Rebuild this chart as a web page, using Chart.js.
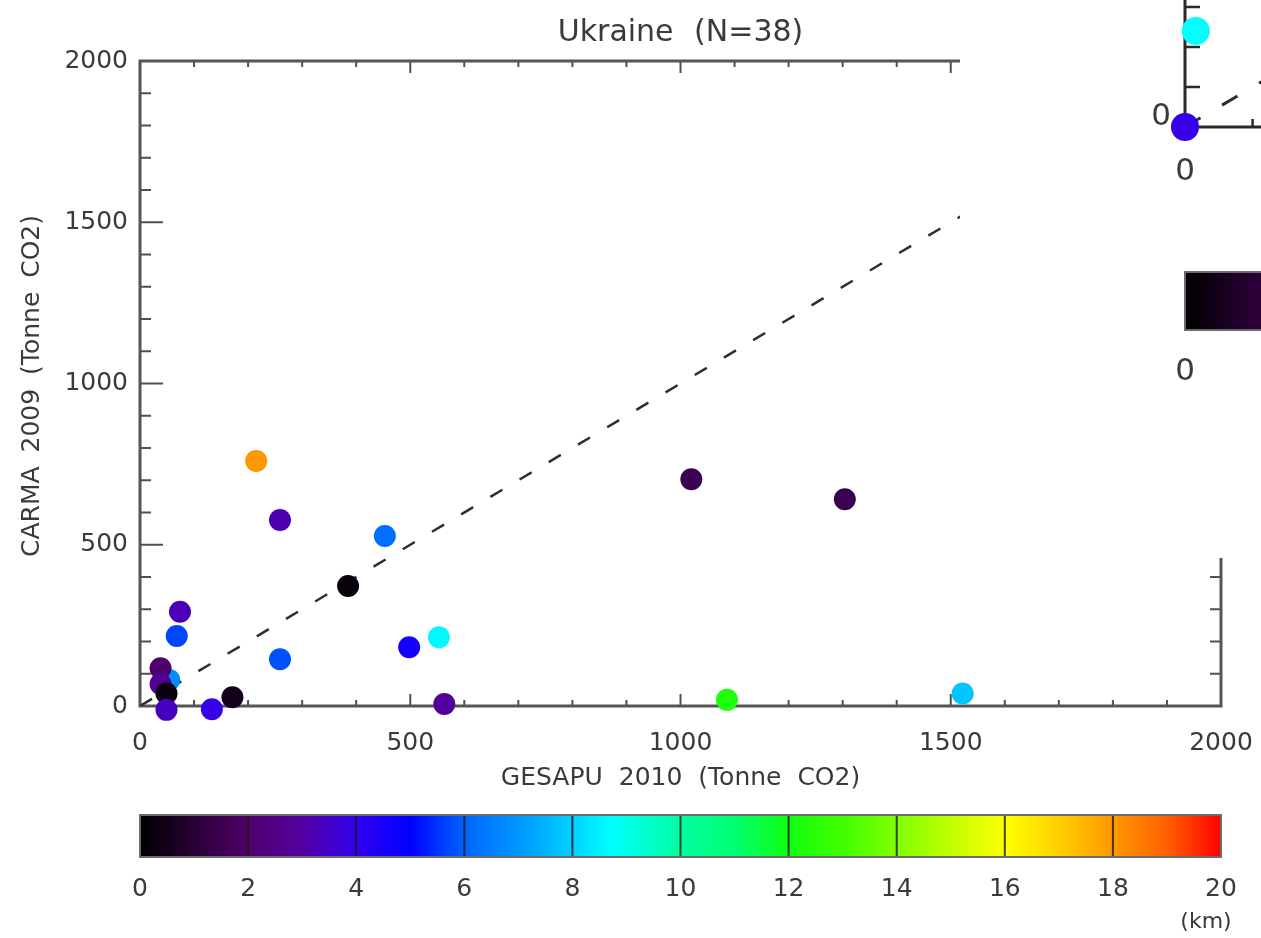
<!DOCTYPE html>
<html>
<head>
<meta charset="utf-8">
<script src="https://cdn.jsdelivr.net/npm/chart.js@4.4.1/dist/chart.umd.min.js"></script>
<style>
  html, body { margin: 0; padding: 0; background: #fff; overflow: hidden; }
  #wrap { position: relative; width: 1261px; height: 938px; }
  #main { position: absolute; left: 0; top: 0; }
  #panel { position: absolute; left: 960px; top: 0; width: 301px; height: 558px; background: #fff; overflow: hidden; }
  #inset { position: absolute; left: 165px; top: 0; }
</style>
</head>
<body>
<div id="wrap">
  <canvas id="main" width="1261" height="938"></canvas>
  <div id="panel"><canvas id="inset" width="400" height="400"></canvas></div>
</div>
<script>
// ---- Ukraine plants: emissions from the two inventories and match distance ----
const gesapu     = [215, 259, 453, 385, 1020, 1304, 74, 68, 259, 498, 553, 563, 1086, 1522, 171, 133, 54, 38, 38, 49, 49];
const carma      = [760, 577, 527, 372, 703, 641, 292, 217, 145, 182, 213, 6, 19, 39, 27, -10, 81, 117, 68, 39, -12];
const distanceKm = [18, 3.2, 6.2, 0.2, 1.5, 1.5, 3.3, 5.7, 5.8, 4.6, 8.6, 2.9, 12.3, 7.8, 0.5, 3.9, 6.8, 2.0, 2.7, 0.3, 3.4];

// 1:1 reference line
const oneToOne = [0, 2000];

// axis ticks
const xTickValues = [0, 500, 1000, 1500, 2000];
const yTickValues = [0, 500, 1000, 1500, 2000];
const minorStep = 100;

// colour bar (distance, km)
const colorbarTicks = [0, 2, 4, 6, 8, 10, 12, 14, 16, 18, 20];
const colorStopsKm  = [0, 2, 3, 4, 5, 6, 7, 8, 8.7, 10, 11, 12, 13, 14, 15, 16, 17, 18, 19, 20];
const colorStopsHex = ['#000000', '#50006a', '#5200a0', '#3300f0', '#0000ff', '#0064ff', '#0098ff', '#00d0ff', '#00ffff',
                       '#00ffa0', '#00ff70', '#10ff10', '#40ff00', '#80ff00', '#c0ff00', '#ffff00', '#ffd000', '#ff9800', '#ff6000', '#ff0000'];

// neighbouring panel (partly visible)
const insetX  = [0, 16];
const insetY  = [0, 240];
const insetKm = [3.9, 8.7];
const insetLine = [0, 500];

const TEXT = '#3a3a3a';
const FONT = 'DejaVu Sans';

function hexToRgb(h) {
  const n = parseInt(h.slice(1), 16);
  return [(n >> 16) & 255, (n >> 8) & 255, n & 255];
}
function kmColor(d) {
  const v = Math.max(colorStopsKm[0], Math.min(colorStopsKm[colorStopsKm.length - 1], d));
  for (let i = 0; i < colorStopsKm.length - 1; i++) {
    const a = colorStopsKm[i], b = colorStopsKm[i + 1];
    if (v >= a && v <= b) {
      const t = (v - a) / (b - a);
      const c0 = hexToRgb(colorStopsHex[i]), c1 = hexToRgb(colorStopsHex[i + 1]);
      const c = c0.map((x, k) => Math.round(x + (c1[k] - x) * t));
      return `rgb(${c[0]},${c[1]},${c[2]})`;
    }
  }
  return colorStopsHex[colorStopsHex.length - 1];
}

// draws words with extra gap between them, centred on (cx, cy)
function spacedText(ctx, text, cx, cy, gap) {
  const words = text.split(' ');
  const sp = ctx.measureText(' ').width + gap;
  const widths = words.map(w => ctx.measureText(w).width);
  const total = widths.reduce((s, w) => s + w, 0) + sp * (words.length - 1);
  let x = cx - total / 2;
  ctx.textAlign = 'left';
  ctx.textBaseline = 'middle';
  words.forEach((w, i) => { ctx.fillText(w, x, cy); x += widths[i] + sp; });
}

function drawColorbar(ctx, scale, y0, h, labelY, fontSize) {
  const x0 = scale.getPixelForValue(0), x1 = scale.getPixelForValue(20);
  const g = ctx.createLinearGradient(x0, 0, x1, 0);
  colorStopsKm.forEach((k, i) => g.addColorStop(k / 20, colorStopsHex[i]));
  ctx.fillStyle = g;
  ctx.fillRect(x0, y0, x1 - x0, h);
  ctx.strokeStyle = 'rgba(25,25,25,0.8)';
  ctx.lineWidth = 2;
  colorbarTicks.slice(1, -1).forEach(k => {
    const px = scale.getPixelForValue(k);
    ctx.beginPath(); ctx.moveTo(px, y0); ctx.lineTo(px, y0 + h); ctx.stroke();
  });
  ctx.strokeStyle = '#6a6a6a';
  ctx.strokeRect(x0, y0, x1 - x0, h);
  ctx.fillStyle = TEXT;
  ctx.font = `${fontSize}px "${FONT}"`;
  ctx.textAlign = 'center';
  ctx.textBaseline = 'middle';
  colorbarTicks.forEach(k => {
    const px = scale.getPixelForValue(k);
    if (px < ctx.canvas.width + 40) ctx.fillText(String(k), px, labelY);
  });
}

function noScalePadding(s) {
  s.paddingLeft = 0; s.paddingRight = 0; s.paddingTop = 0; s.paddingBottom = 0;
}

// ---------- main scatter ----------
const mainFrame = {
  id: 'mainFrame',
  beforeDatasetsDraw(chart) {
    const { ctx, chartArea: a, scales: { x, y } } = chart;
    ctx.save();
    ctx.strokeStyle = '#505050';
    ctx.lineWidth = 2;
    for (let v = x.min; v <= x.max; v += minorStep) {
      const px = x.getPixelForValue(v);
      const len = v % 500 === 0 ? 12 : 6;
      ctx.beginPath();
      ctx.moveTo(px, a.bottom); ctx.lineTo(px, a.bottom - len);
      ctx.moveTo(px, a.top); ctx.lineTo(px, a.top + len);
      ctx.stroke();
    }
    for (let v = y.min; v <= y.max; v += minorStep) {
      const py = y.getPixelForValue(v);
      const len = v % 500 === 0 ? 23 : 11;
      ctx.beginPath();
      ctx.moveTo(a.left, py); ctx.lineTo(a.left + len, py);
      ctx.moveTo(a.right, py); ctx.lineTo(a.right - len, py);
      ctx.stroke();
    }
    ctx.lineWidth = 3;
    ctx.strokeStyle = '#555';
    ctx.strokeRect(a.left, a.top, a.right - a.left, a.bottom - a.top);
    ctx.restore();
  },
  afterDraw(chart) {
    const { ctx, chartArea: a, scales } = chart;
    ctx.save();
    ctx.fillStyle = TEXT;
    ctx.font = `30px "${FONT}"`;
    spacedText(ctx, 'Ukraine (N=38)', (a.left + a.right) / 2, 33, 11);
    ctx.font = `25px "${FONT}"`;
    spacedText(ctx, 'GESAPU 2010 (Tonne CO2)', (a.left + a.right) / 2, 778, 8);
    ctx.save();
    ctx.translate(32, 386);
    ctx.rotate(-Math.PI / 2);
    spacedText(ctx, 'CARMA 2009 (Tonne CO2)', 0, 0, 6);
    ctx.restore();
    drawColorbar(ctx, scales.km, 815, 42, 889, 25);
    ctx.fillStyle = TEXT;
    ctx.font = `22px "${FONT}"`;
    ctx.textAlign = 'center';
    ctx.textBaseline = 'middle';
    ctx.fillText('(km)', 1206, 922);
    ctx.restore();
  }
};

const tickFont = { family: FONT, size: 25 };

new Chart(document.getElementById('main'), {
  type: 'scatter',
  data: {
    datasets: [
      {
        data: gesapu.map((x, i) => ({ x, y: carma[i] })),
        pointRadius: 11,
        pointHoverRadius: 11,
        pointBorderWidth: 0,
        pointBackgroundColor: distanceKm.map(kmColor),
        clip: false,
        order: 0
      },
      {
        type: 'line',
        data: oneToOne.map(v => ({ x: v, y: v })),
        borderColor: '#2e2e2e',
        borderWidth: 2.5,
        borderDash: [14, 20],
        pointRadius: 0,
        fill: false,
        order: 1
      }
    ]
  },
  options: {
    responsive: false,
    animation: false,
    devicePixelRatio: 1,
    events: [],
    layout: { autoPadding: false, padding: { top: 61, right: 40, left: 0, bottom: 0 } },
    plugins: { legend: { display: false }, tooltip: { enabled: false }, title: { display: false } },
    scales: {
      x: {
        type: 'linear', min: 0, max: 2000,
        afterFit(s) { s.height = 232; noScalePadding(s); },
        afterBuildTicks(s) { s.ticks = xTickValues.map(v => ({ value: v })); },
        grid: { display: false, drawTicks: false },
        border: { display: false },
        ticks: { padding: 22, font: tickFont, color: TEXT, maxRotation: 0, autoSkip: false, callback: v => String(v) }
      },
      y: {
        type: 'linear', min: 0, max: 2000,
        afterFit(s) { s.width = 140; noScalePadding(s); },
        afterBuildTicks(s) { s.ticks = yTickValues.map(v => ({ value: v })); },
        grid: { display: false, drawTicks: false },
        border: { display: false },
        ticks: { padding: 12, font: tickFont, color: TEXT, autoSkip: false, callback: v => String(v) }
      },
      km: { type: 'linear', axis: 'x', min: 0, max: 20, display: false }
    }
  },
  plugins: [mainFrame]
});

// ---------- neighbouring panel ----------
const insetFrame = {
  id: 'insetFrame',
  beforeDatasetsDraw(chart) {
    const { ctx, chartArea: a, scales: { x, y } } = chart;
    ctx.save();
    ctx.strokeStyle = '#2a2a2a';
    ctx.lineWidth = 2.5;
    for (let v = minorStep; v <= x.max; v += minorStep) {
      const px = x.getPixelForValue(v);
      ctx.beginPath(); ctx.moveTo(px, a.bottom); ctx.lineTo(px, a.bottom - 8); ctx.stroke();
    }
    for (let v = minorStep; v <= y.max; v += minorStep) {
      const py = y.getPixelForValue(v);
      ctx.beginPath(); ctx.moveTo(a.left, py); ctx.lineTo(a.left + 15, py); ctx.stroke();
    }
    ctx.lineWidth = 3;
    ctx.beginPath();
    ctx.moveTo(a.left, a.top); ctx.lineTo(a.left, a.bottom); ctx.lineTo(a.right, a.bottom);
    ctx.stroke();
    ctx.restore();
  },
  afterDraw(chart) {
    const { ctx, scales: { x, y } } = chart;
    ctx.save();
    ctx.fillStyle = TEXT;
    ctx.font = `31px "${FONT}"`;
    ctx.textAlign = 'right';
    ctx.textBaseline = 'middle';
    ctx.fillText('0', x.getPixelForValue(0) - 14, y.getPixelForValue(0) - 10);
    ctx.textAlign = 'center';
    ctx.fillText('0', x.getPixelForValue(0), y.getPixelForValue(0) + 45);
    drawColorbar(ctx, chart.scales.km, 272, 58, 372, 31);
    ctx.restore();
  }
};

new Chart(document.getElementById('inset'), {
  type: 'scatter',
  data: {
    datasets: [
      {
        data: insetX.map((x, i) => ({ x, y: insetY[i] })),
        pointRadius: 14,
        pointHoverRadius: 14,
        pointBorderWidth: 0,
        pointBackgroundColor: insetKm.map(kmColor),
        clip: false,
        order: 0
      },
      {
        type: 'line',
        data: insetLine.map(v => ({ x: v, y: v })),
        borderColor: '#2e2e2e',
        borderWidth: 3,
        borderDash: [18, 25],
        pointRadius: 0,
        fill: false,
        order: 1
      }
    ]
  },
  options: {
    responsive: false,
    animation: false,
    devicePixelRatio: 1,
    events: [],
    layout: { autoPadding: false, padding: 0 },
    plugins: { legend: { display: false }, tooltip: { enabled: false } },
    scales: {
      x: {
        type: 'linear', min: 0, max: 503,
        afterFit(s) { s.height = 273; noScalePadding(s); },
        grid: { display: false, drawTicks: false },
        border: { display: false },
        ticks: { display: false }
      },
      y: {
        type: 'linear', min: 0, max: 317.5,
        afterFit(s) { s.width = 60; noScalePadding(s); },
        grid: { display: false, drawTicks: false },
        border: { display: false },
        ticks: { display: false }
      },
      // colour bar here is drawn at 1.25x the main bar's width (20 km over ~1351 px)
      km: { type: 'linear', axis: 'x', min: 0, max: 5.03, display: false }
    }
  },
  plugins: [insetFrame]
});
</script>
</body>
</html>
